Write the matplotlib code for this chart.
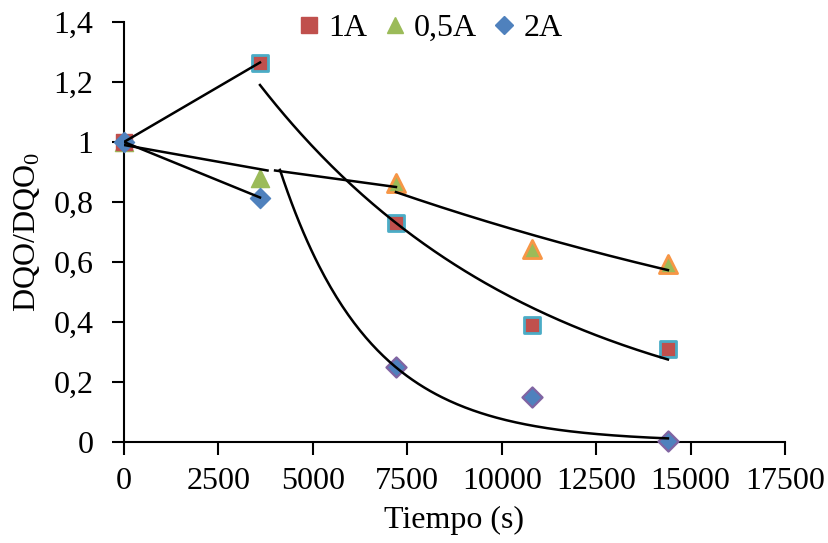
import numpy as np
import matplotlib
matplotlib.use("Agg")
import matplotlib.pyplot as plt
from matplotlib.ticker import FuncFormatter
from matplotlib.lines import Line2D

plt.rcParams['font.family'] = ['Liberation Serif', 'DejaVu Serif']
plt.rcParams['mathtext.fontset'] = 'custom'
plt.rcParams['mathtext.rm'] = 'Liberation Serif'
plt.rcParams['mathtext.it'] = 'Liberation Serif:italic'

# ---- data ----
tiempo = [0, 3600, 7200, 10800, 14400]
dqo_1A = [1.0, 1.265, 0.73, 0.39, 0.31]
dqo_05A = [1.0, 0.88, 0.865, 0.645, 0.595]
dqo_2A = [1.0, 0.815, 0.25, 0.15, 0.005]

# trendline segments: (x_start, y_start, x_end, y_end)
lin_1A = [(0, 1.0, 3600, 1.265)]
exp_1A = [(3600, 1.19, 14400, 0.275)]
lin_05A = [(0, 0.99, 3800, 0.905), (4000, 0.905, 7200, 0.85)]
exp_05A = [(7200, 0.833, 14400, 0.573)]
lin_2A = [(0, 1.0, 3600, 0.815)]
exp_2A = [(4130, 0.907, 14400, 0.012)]

legend_labels = ['1A', '0,5A', '2A']
x_ticks = [0, 2500, 5000, 7500, 10000, 12500, 15000, 17500]
y_ticks = [0, 0.2, 0.4, 0.6, 0.8, 1.0, 1.2, 1.4]

red, cyan = '#C0504D', '#4BACC6'
green, orange = '#9BBB59', '#F79646'
blue, purple = '#4F81BD', '#8064A2'

fig = plt.figure(figsize=(8.29, 5.43), dpi=100)
ax = fig.add_axes([124/829, 1-442/543, (785-124)/829, (442-22)/543])

FS = 23
LW = 1.8

def draw_lin(segs):
    for x0, y0, x1, y1 in segs:
        ax.plot([x0, x1], [y0, y1], color='black', lw=LW, zorder=5)

def draw_exp(segs):
    for x0, y0, x1, y1 in segs:
        xs = np.linspace(x0, x1, 200)
        k = np.log(y1 / y0) / (x1 - x0)
        ax.plot(xs, y0 * np.exp(k * (xs - x0)), color='black', lw=LW, zorder=5)

t = np.array(tiempo)
a1 = np.array(dqo_1A); a05 = np.array(dqo_05A); a2 = np.array(dqo_2A)

ax.scatter(t[:1], a1[:1], marker='s', s=140, color=red, zorder=3, clip_on=False)
ax.scatter(t[1:], a1[1:], marker='s', s=140, color=red, edgecolors=cyan, linewidths=2.0, zorder=3, clip_on=False)
ax.scatter(t[:2], a05[:2], marker='^', s=170, color=green, zorder=2, clip_on=False)
ax.scatter(t[2:], a05[2:], marker='^', s=170, color=green, edgecolors=orange, linewidths=2.0, zorder=3, clip_on=False)
ax.scatter(t[:2], a2[:2], marker='D', s=105, color=blue, zorder=4, clip_on=False)
ax.scatter(t[2:], a2[2:], marker='D', s=105, color=blue, edgecolors=purple, linewidths=1.6, zorder=3, clip_on=False)

draw_lin(lin_1A); draw_exp(exp_1A)
draw_lin(lin_05A); draw_exp(exp_05A)
draw_lin(lin_2A); draw_exp(exp_2A)

ax.set_xlim(0, 17500)
ax.set_ylim(0, 1.4)
ax.set_xticks(x_ticks)
ax.set_yticks(y_ticks)
ax.xaxis.set_major_formatter(FuncFormatter(lambda v, p: f"{int(round(v))}"))
ax.yaxis.set_major_formatter(FuncFormatter(lambda v, p: (f"{v:.1f}".rstrip('0').rstrip('.')).replace('.', ',')))
ax.tick_params(axis='both', direction='out', length=9, width=1.5, labelsize=FS, colors='black')
ax.tick_params(axis='x', pad=9)
ax.tick_params(axis='y', pad=13)
for s in ['top', 'right']:
    ax.spines[s].set_visible(False)
for s in ['left', 'bottom']:
    ax.spines[s].set_linewidth(1.5)

ax.set_xlabel('Tiempo (s)', fontsize=FS, labelpad=7)
ax.set_ylabel(r'DQO/DQO$_{\mathregular{0}}$', fontsize=FS, labelpad=8)

handles = [Line2D([], [], ls='none', marker='s', color=red, markersize=11),
           Line2D([], [], ls='none', marker='^', color=green, markersize=12),
           Line2D([], [], ls='none', marker='D', color=blue, markersize=9)]
fig.legend(handles, legend_labels, loc='center', bbox_to_anchor=(428/829, 1-28/543),
           ncol=3, frameon=False, fontsize=FS, handletextpad=0.1, columnspacing=0.35,
           handlelength=1.0, borderpad=0)

fig.savefig('out.png', dpi=100)
